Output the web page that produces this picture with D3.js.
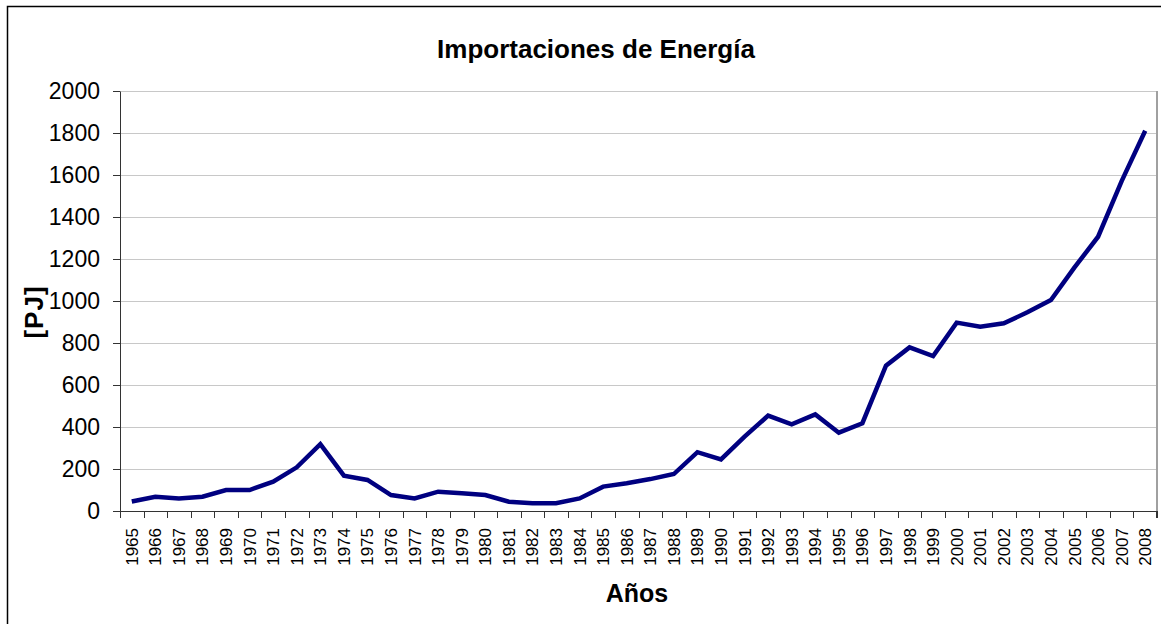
<!DOCTYPE html>
<html>
<head>
<meta charset="utf-8">
<style>
  body { margin: 0; background: #fff; font-family: "Liberation Sans", Arial, sans-serif; }
  .grid line { stroke: #c8c8c8; stroke-width: 1px; }
  .axis path, .axis line { stroke: #333; }
</style>
</head>
<body>
<div id="chart"></div>
<script src="https://cdn.jsdelivr.net/npm/d3@7"></script>
<script>
var years = d3.range(1965, 2009).map(String);
var values = [45, 68, 60, 68, 100, 100, 140, 208, 318, 168,
              148, 76, 60, 92, 84, 76, 44, 37, 37, 60,
              116, 132, 152, 176, 280, 246, 354, 454, 413, 460,
              373, 418, 692, 779, 738, 897, 878, 894, 946, 1005,
              1160, 1306, 1571, 1811];
var yTicks = [0, 200, 400, 600, 800, 1000, 1200, 1400, 1600, 1800, 2000];

var W = 1161, H = 624;
var margin = {top: 91, left: 120, right: 4, bottom: 113};
var width = W - margin.left - margin.right,
    height = H - margin.top - margin.bottom;

var svg = d3.select("#chart").append("svg")
    .attr("width", W)
    .attr("height", H);

// outer frame
svg.append("rect")
    .attr("x", 7.5).attr("y", 6.5)
    .attr("width", W + 10).attr("height", H + 10)
    .attr("fill", "none").attr("stroke", "#000").attr("stroke-width", 1.5);

var g = svg.append("g")
    .attr("transform", "translate(" + margin.left + "," + margin.top + ")");

var x = d3.scaleBand().domain(years).range([0, width]);
var y = d3.scaleLinear().domain([0, 2000]).range([height, 0]);

// gridlines
g.append("g").attr("class", "grid")
    .selectAll("line").data(yTicks.slice(1))
    .enter().append("line")
    .attr("x1", 0).attr("x2", width)
    .attr("y1", function (d) { return y(d) + 0.5; })
    .attr("y2", function (d) { return y(d) + 0.5; });

// plot area right border
g.append("line")
    .attr("x1", width).attr("x2", width)
    .attr("y1", 0).attr("y2", height)
    .attr("stroke", "#a0a0a0").attr("stroke-width", 2);

// y axis
var yAxis = g.append("g").attr("class", "axis")
    .call(d3.axisLeft(y).tickValues(yTicks).tickFormat(d3.format("d"))
        .tickSize(7).tickSizeOuter(0).tickPadding(13));
yAxis.selectAll("text")
    .style("font-size", "23px")
    .style("font-family", "'Liberation Sans', Arial, sans-serif")
    .attr("fill", "#000");

// x axis: ticks between categories
var xAxisG = g.append("g").attr("class", "axis")
    .attr("transform", "translate(0," + height + ")");
xAxisG.append("line")
    .attr("x1", 0).attr("x2", width)
    .attr("y1", 0.5).attr("y2", 0.5)
    .attr("stroke", "#333");
xAxisG.selectAll(".tk").data(years)
    .enter().append("line")
    .attr("class", "tk")
    .attr("x1", function (d) { return Math.round(x(d)) + 0.5; })
    .attr("x2", function (d) { return Math.round(x(d)) + 0.5; })
    .attr("y1", 0).attr("y2", 7)
    .attr("stroke", "#333");
xAxisG.append("line")
    .attr("x1", width).attr("x2", width).attr("y1", 0).attr("y2", 7)
    .attr("stroke", "#888").attr("stroke-width", 2);
xAxisG.selectAll(".lbl").data(years)
    .enter().append("text")
    .attr("class", "lbl")
    .attr("transform", function (d) {
        return "translate(" + (x(d) + x.bandwidth() / 2 + 6) + ",17) rotate(-90)";
    })
    .attr("text-anchor", "end")
    .style("font-size", "17px")
    .text(function (d) { return d; });

// series line
var line = d3.line()
    .x(function (d, i) { return x(years[i]) + x.bandwidth() / 2; })
    .y(function (d) { return y(d); });

g.append("path")
    .datum(values)
    .attr("d", line)
    .attr("fill", "none")
    .attr("stroke", "#000080")
    .attr("stroke-width", 4.5)
    .attr("stroke-linejoin", "miter");

// titles
svg.append("text")
    .attr("x", 596).attr("y", 58)
    .attr("text-anchor", "middle")
    .style("font-size", "26px").style("font-weight", "bold")
    .text("Importaciones de Energía");

svg.append("text")
    .attr("transform", "translate(43,312) rotate(-90)")
    .attr("text-anchor", "middle")
    .style("font-size", "26px").style("font-weight", "bold")
    .style("letter-spacing", "1px")
    .text("[PJ]");

svg.append("text")
    .attr("x", 637).attr("y", 602)
    .attr("text-anchor", "middle")
    .style("font-size", "25px").style("font-weight", "bold")
    .text("Años");
</script>
</body>
</html>
